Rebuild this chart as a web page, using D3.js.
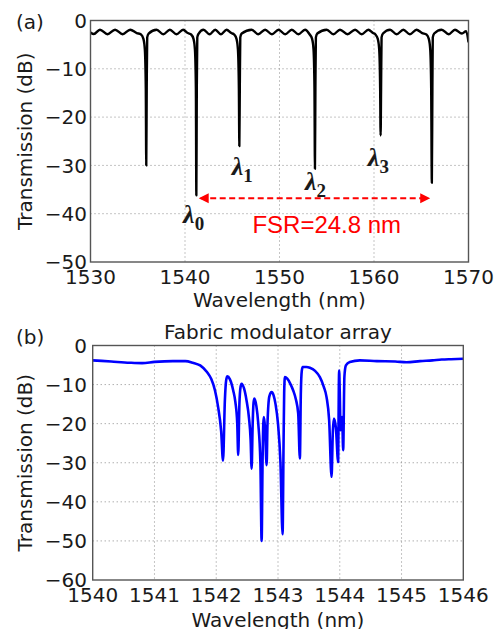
<!DOCTYPE html>
<html><head><meta charset="utf-8">
<script src="https://cdn.jsdelivr.net/npm/d3@7"></script>
<style>
html,body{margin:0;padding:0;background:#fff;}
svg{display:block;}
text{font-family:"DejaVu Sans",sans-serif;fill:#1a1a1a;}
</style></head>
<body>
<svg id="c" width="495" height="629"></svg>
<script>
// ---------- DATA ----------
// Panel (a): transmission spectrum [wavelength nm, dB]
const specA = [
[1530.0,-2.5],[1530.35,-2.8],[1531.0,-1.9],[1531.8,-2.85],[1532.6,-1.9],[1533.4,-2.85],[1534.2,-1.9],
[1534.9,-2.6],[1535.35,-2.9],[1535.6,-3.8],[1535.75,-6],[1535.85,-14],[1535.9,-30],[1535.95,-14],[1536.0,-3.5],[1536.15,-2.7],
[1537.0,-1.9],[1537.7,-2.85],[1538.4,-1.9],[1539.1,-2.85],[1539.8,-1.9],
[1540.3,-2.6],[1540.65,-2.9],[1540.9,-3.8],[1541.05,-6],[1541.15,-14],[1541.2,-36.2],[1541.25,-14],[1541.3,-3.5],[1541.45,-2.7],
[1541.96,-1.9],[1542.6,-2.85],[1543.2,-1.9],[1543.8,-2.85],[1544.4,-1.9],
[1544.9,-2.6],[1545.2,-2.9],[1545.45,-3.8],[1545.6,-6],[1545.7,-14],[1545.75,-26],[1545.8,-14],[1545.85,-3.5],[1546.0,-2.7],
[1547.06,-1.9],[1547.75,-2.85],[1548.48,-1.9],[1549.2,-2.85],[1549.9,-1.9],[1550.6,-2.85],[1551.3,-1.9],[1552.0,-2.85],[1552.7,-1.9],
[1553.2,-2.9],[1553.45,-3.8],[1553.6,-6],[1553.7,-14],[1553.75,-30.7],[1553.8,-14],[1553.85,-3.5],[1554.0,-2.7],
[1555.0,-1.9],[1555.7,-2.85],[1556.4,-1.9],[1557.2,-2.85],[1558.0,-1.9],[1558.7,-2.85],[1559.4,-1.9],
[1559.9,-2.6],[1560.15,-2.9],[1560.4,-3.8],[1560.55,-6],[1560.65,-14],[1560.7,-23.8],[1560.75,-14],[1560.8,-3.5],[1560.95,-2.7],
[1561.7,-1.9],[1562.4,-2.85],[1563.1,-1.9],[1563.8,-2.85],[1564.5,-1.9],
[1565.1,-2.6],[1565.55,-2.9],[1565.8,-3.8],[1565.95,-6],[1566.05,-14],[1566.12,-33.6],[1566.18,-14],[1566.22,-3.5],[1566.37,-2.7],
[1567.16,-1.9],[1567.9,-2.85],[1568.57,-1.9],[1569.3,-2.7],[1569.75,-2.2],[1570.0,-4.5]
];
// Panel (b): fabric modulator array spectrum [wavelength nm, dB]
const specB = [
[1540.0,-3.8],[1540.3,-4.1],[1540.6,-4.4],[1540.8,-4.5],[1541.0,-4.2],[1541.3,-4.0],[1541.5,-4.0],[1541.62,-4.4],
[1541.74,-5.1],[1541.85,-6.8],[1541.92,-8.6],[1541.98,-11.5],[1542.03,-15.7],[1542.08,-22.0],[1542.11,-29.5],
[1542.14,-14],[1542.16,-9],[1542.18,-7.9],[1542.22,-8.6],[1542.275,-11.5],[1542.31,-14.5],[1542.34,-19.9],[1542.356,-28.0],
[1542.375,-15],[1542.395,-10.5],[1542.41,-9.8],[1542.45,-11.0],[1542.49,-14.0],[1542.53,-18.5],[1542.557,-24.2],[1542.573,-31.5],
[1542.59,-20],[1542.605,-14.5],[1542.618,-13.6],[1542.65,-15.5],[1542.68,-19.9],[1542.715,-30],[1542.735,-50],
[1542.75,-30],[1542.762,-20],[1542.772,-18.3],[1542.79,-21],[1542.816,-30.6],
[1542.83,-20],[1542.86,-13],[1542.896,-11.9],[1542.93,-12.8],[1542.96,-15],[1543.0,-20],[1543.04,-30],[1543.074,-48.3],
[1543.09,-25],[1543.1,-12],[1543.112,-8.1],[1543.15,-8.5],[1543.2,-9.8],[1543.246,-11.5],[1543.29,-13.8],[1543.327,-17.4],[1543.354,-28.9],
[1543.37,-12],[1543.385,-6.5],[1543.4,-5.5],[1543.46,-5.5],[1543.516,-5.7],[1543.6,-6.5],[1543.678,-8.1],[1543.74,-10.5],
[1543.786,-13.2],[1543.828,-19.1],[1543.867,-33.6],[1543.888,-22],[1543.905,-18.7],[1543.937,-21],[1543.974,-29.8],
[1543.985,-10],[1543.99,-6.4],[1544.0,-12],[1544.013,-21.7],[1544.025,-19],[1544.039,-18.3],[1544.055,-26.8],
[1544.075,-8],[1544.099,-5.1],[1544.163,-4.2],[1544.325,-3.8],[1544.6,-4.0],[1544.9,-4.1],[1545.08,-4.3],[1545.3,-4.0],
[1545.5,-3.8],[1545.65,-3.6],[1545.8,-3.5],[1546.0,-3.4]
];
// Axis ticks
const xTicksA = [1530,1540,1550,1560,1570];
const yTicksA = [0,-10,-20,-30,-40,-50];
const xTicksB = [1540,1541,1542,1543,1544,1545,1546];
const yTicksB = [0,-10,-20,-30,-40,-50,-60];
// Annotations (panel a), in data coordinates
const lambdaLabels = [
  {sub:"0", x:1539.8, y:-42.0},
  {sub:"1", x:1544.95, y:-32.0},
  {sub:"2", x:1552.7, y:-35.1},
  {sub:"3", x:1559.35, y:-30.1}
];
const fsrArrow = [1541.45, 1565.95];
const fsrLevel = -36.8;
const fsrText = "FSR=24.8 nm";
const fsrTextPos = [1555.0, -43.9];
const titleB = "Fabric modulator array";
const xLabel = "Wavelength (nm)";
const yLabel = "Transmission (dB)";

// ---------- DRAW ----------
const svg = d3.select("#c");
const fmt = v => (v < 0 ? "\u2212" + Math.abs(v) : String(v));

function panel(cfg){
  const {x, y, xTicks, yTicks, data, color, width, id} = cfg;
  const g = svg.append("g");
  const [x0,x1] = x.range(), [y1,y0] = y.range();
  g.append("clipPath").attr("id", id).append("rect")
    .attr("x", x0).attr("y", y0).attr("width", x1-x0).attr("height", y1-y0);
  // grid
  g.selectAll(".gx").data(xTicks.slice(1,-1)).join("line")
    .attr("x1", d=>x(d)).attr("x2", d=>x(d)).attr("y1", y0).attr("y2", y1)
    .attr("stroke","#8a8a8a").attr("stroke-width",1).attr("stroke-dasharray","1,3");
  g.selectAll(".gy").data(yTicks.slice(1,-1)).join("line")
    .attr("y1", d=>y(d)).attr("y2", d=>y(d)).attr("x1", x0).attr("x2", x1)
    .attr("stroke","#8a8a8a").attr("stroke-width",1).attr("stroke-dasharray","1,3");
  // line
  const line = d3.line().x(d=>x(d[0])).y(d=>y(d[1])).curve(d3.curveMonotoneX);
  g.append("path").datum(data).attr("d", line).attr("fill","none")
    .attr("stroke", color).attr("stroke-width", width)
    .attr("stroke-linejoin","round").attr("clip-path", `url(#${id})`);
  // frame
  g.append("rect").attr("x", x0).attr("y", y0).attr("width", x1-x0).attr("height", y1-y0)
    .attr("fill","none").attr("stroke","#555").attr("stroke-width",1.4);
  // tick labels
  g.selectAll(".tx").data(xTicks).join("text")
    .attr("x", d=>x(d)).attr("y", y1+21.5).attr("text-anchor","middle")
    .attr("font-size",20).text(d=>d);
  g.selectAll(".ty").data(yTicks).join("text")
    .attr("x", 87).attr("y", d=>y(d)).attr("dy","0.36em").attr("text-anchor","end")
    .attr("font-size",20).text(fmt);
  // axis labels
  g.append("text").attr("x",(x0+x1)/2).attr("y", cfg.xlabY).attr("text-anchor","middle")
    .attr("font-size",20).text(xLabel);
  g.append("text").attr("transform",`translate(32,${(y0+y1)/2}) rotate(-90)`)
    .attr("text-anchor","middle").attr("font-size",20).text(yLabel);
  g.append("text").attr("x",16).attr("y",cfg.tagY).attr("font-size",20).text(cfg.tag);
  return g;
}

// Panel (a)
const xA = d3.scaleLinear().domain([1530,1570]).range([90.5,468.5]);
const yA = d3.scaleLinear().domain([-50,0]).range([262,20.5]);
const gA = panel({x:xA, y:yA, xTicks:xTicksA, yTicks:yTicksA, data:specA, color:"#000",
  width:2.4, id:"clipA", xlabY:306.5, tag:"(a)", tagY:29});

// FSR arrow
gA.append("line").attr("x1", xA(fsrArrow[0])+2).attr("x2", xA(fsrArrow[1])-2)
  .attr("y1", yA(fsrLevel)).attr("y2", yA(fsrLevel))
  .attr("stroke","#ff0000").attr("stroke-width",2).attr("stroke-dasharray","6,3.5");
gA.append("path")
  .attr("d", `M${xA(fsrArrow[0])},${yA(fsrLevel)} l10,-5 l0,10 Z M${xA(fsrArrow[1])},${yA(fsrLevel)} l-10,-5 l0,10 Z`)
  .attr("fill","#ff0000");
gA.append("text").attr("x", xA(fsrTextPos[0])).attr("y", yA(fsrTextPos[1]))
  .attr("text-anchor","middle").style("font-family","'Liberation Sans',Arial,sans-serif")
  .style("fill","#ff0000").attr("font-size",24).text(fsrText);

// lambda labels
lambdaLabels.forEach(l=>{
  const t = gA.append("text").attr("x", xA(l.x)).attr("y", yA(l.y))
    .style("font-family","'Liberation Serif','Times New Roman',serif")
    .attr("font-weight","bold").attr("font-style","italic").attr("font-size",26);
  t.append("tspan").text("\u03bb");
  t.append("tspan").attr("dy",7).attr("font-size",19).attr("font-style","normal").text(l.sub);
});

// Panel (b)
const xB = d3.scaleLinear().domain([1540,1546]).range([92.7,463.3]);
const yB = d3.scaleLinear().domain([-60,0]).range([580,345.5]);
panel({x:xB, y:yB, xTicks:xTicksB, yTicks:yTicksB, data:specB, color:"#0000ff",
  width:2.6, id:"clipB", xlabY:626.5, tag:"(b)", tagY:344});
svg.append("text").attr("x",(92.7+463.3)/2).attr("y",339).attr("text-anchor","middle")
  .attr("font-size",20).text(titleB);
</script>
</body></html>
